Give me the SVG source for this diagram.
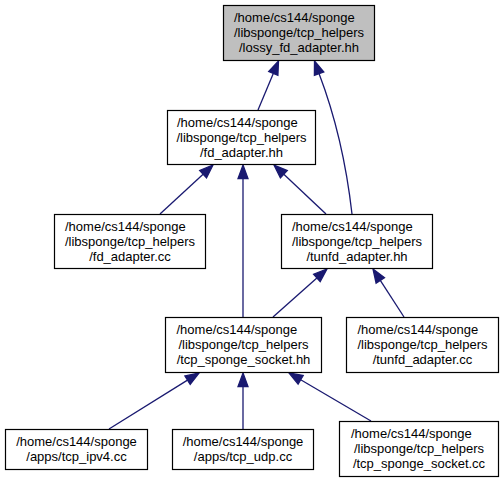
<svg xmlns="http://www.w3.org/2000/svg" width="503" height="483" viewBox="0 0 503 483">
<style>
.box{fill:#fff;stroke:#000;stroke-width:1.2}
.root{fill:#bfbfbf}
text{font-family:"Liberation Sans",Arial,Helvetica,sans-serif;font-size:13px;fill:#000}
.c{text-anchor:middle}
.e{fill:none;stroke:#191970;stroke-width:1.3}
.ah{fill:#191970;stroke:#191970;stroke-width:1.3}
</style>
<rect width="503" height="483" fill="#fff"/>
<g id="edges">
<path class="e" d="M258,110 L273.3,73.5"/>
<polygon class="ah" points="278.5,61 277.9,75.4 268.7,71.5"/>
<path class="e" d="M352,214 C347,170 336,118 319.1,73.7"/>
<polygon class="ah" points="314.5,61 323.8,72 314.4,75.4"/>
<path class="e" d="M160,214 L203.1,174.2"/>
<polygon class="ah" points="213,165 206.5,177.8 199.7,170.5"/>
<path class="e" d="M243,317 L243,178.5"/>
<polygon class="ah" points="243,165 248,178.5 238,178.5"/>
<path class="e" d="M326,214 L283.8,174.3"/>
<polygon class="ah" points="274,165 287.3,170.6 280.4,177.9"/>
<path class="e" d="M273,317 L316.9,278"/>
<polygon class="ah" points="327,269 320.2,281.7 313.6,274.2"/>
<path class="e" d="M404,317 L380.3,280.4"/>
<polygon class="ah" points="373,269 384.5,277.6 376.1,283.1"/>
<path class="e" d="M109,429 L187.5,380.1"/>
<polygon class="ah" points="199,373 190.2,384.4 184.9,375.9"/>
<path class="e" d="M243,429 L243,386.5"/>
<polygon class="ah" points="243,373 248,386.5 238,386.5"/>
<path class="e" d="M371,421 L300.7,379.8"/>
<polygon class="ah" points="289,373 303.2,375.5 298.1,384.1"/>
</g>
<g id="node_lossy_fd_adapter_hh">
<rect class="box root" x="223.5" y="5.5" width="151" height="55"/>
<text x="234" y="22">/home/cs144/sponge</text>
<text class="c" x="299" y="37">/libsponge/tcp_helpers</text>
<text class="c" x="299" y="52">/lossy_fd_adapter.hh</text>
</g>
<g id="node_fd_adapter_hh">
<rect class="box" x="167.5" y="110.5" width="148" height="54"/>
<text x="177" y="126.5">/home/cs144/sponge</text>
<text class="c" x="241.5" y="141.5">/libsponge/tcp_helpers</text>
<text class="c" x="241.5" y="156.5">/fd_adapter.hh</text>
</g>
<g id="node_fd_adapter_cc">
<rect class="box" x="54.5" y="214.5" width="151" height="54"/>
<text x="65" y="230.5">/home/cs144/sponge</text>
<text class="c" x="130" y="245.5">/libsponge/tcp_helpers</text>
<text class="c" x="130" y="260.5">/fd_adapter.cc</text>
</g>
<g id="node_tunfd_adapter_hh">
<rect class="box" x="281.5" y="214.5" width="151" height="54"/>
<text x="292" y="230.5">/home/cs144/sponge</text>
<text class="c" x="357" y="245.5">/libsponge/tcp_helpers</text>
<text class="c" x="357" y="260.5">/tunfd_adapter.hh</text>
</g>
<g id="node_tcp_sponge_socket_hh">
<rect class="box" x="165.5" y="317.5" width="156" height="55"/>
<text x="176.5" y="334">/home/cs144/sponge</text>
<text class="c" x="243.5" y="349">/libsponge/tcp_helpers</text>
<text class="c" x="243.5" y="364">/tcp_sponge_socket.hh</text>
</g>
<g id="node_tunfd_adapter_cc">
<rect class="box" x="346.5" y="317.5" width="152" height="55"/>
<text x="357.5" y="334">/home/cs144/sponge</text>
<text class="c" x="422.5" y="349">/libsponge/tcp_helpers</text>
<text class="c" x="422.5" y="364">/tunfd_adapter.cc</text>
</g>
<g id="node_tcp_ipv4_cc">
<rect class="box" x="5.5" y="429.5" width="142" height="40"/>
<text class="c" x="76.5" y="446">/home/cs144/sponge</text>
<text class="c" x="76.5" y="461">/apps/tcp_ipv4.cc</text>
</g>
<g id="node_tcp_udp_cc">
<rect class="box" x="172.5" y="429.5" width="141" height="40"/>
<text class="c" x="243" y="446">/home/cs144/sponge</text>
<text class="c" x="243" y="461">/apps/tcp_udp.cc</text>
</g>
<g id="node_tcp_sponge_socket_cc">
<rect class="box" x="339.5" y="421.5" width="159" height="55"/>
<text x="351" y="438">/home/cs144/sponge</text>
<text class="c" x="419" y="453">/libsponge/tcp_helpers</text>
<text class="c" x="419" y="468">/tcp_sponge_socket.cc</text>
</g>
</svg>
